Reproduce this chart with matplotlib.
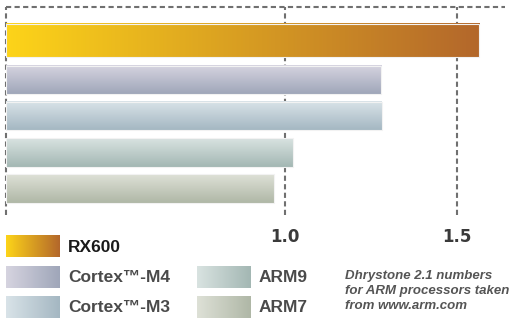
import numpy as np
import matplotlib
matplotlib.use("Agg")
import matplotlib.pyplot as plt
from matplotlib.colors import to_rgb

# data
processors = ["RX600", "Cortex\u2122-M4", "Cortex\u2122-M3", "ARM9", "ARM7"]
dmips = [1.565, 1.28, 1.282, 1.023, 0.968]
tick_vals = [1.0, 1.5]
tick_labels = ["1.0", "1.5"]
note = "Dhrystone 2.1 numbers\nfor ARM processors taken\nfrom www.arm.com"

# colours (start, end) of each gradient
col_start = ["#FDD419", "#D6D4E0", "#D9E3E8", "#D9E3E1", "#DEE1D7"]
col_end = ["#B3672B", "#9FA6B9", "#A4B7C2", "#A3B7B3", "#AFB7A6"]

ypos = [0, 1.1, 2.1, 3.1, 4.1]
heights = [0.92, 0.79, 0.79, 0.79, 0.79]
x0 = 0.19
xmax = 1.64
ytop, ybot = -0.93, 4.84


def gradient(c1, c2, horizontal=True, n=256):
    t = np.linspace(0, 1, n)[:, None]
    img = (1 - t) * np.array(to_rgb(c1)) + t * np.array(to_rgb(c2))
    if horizontal:
        return img[None, :, :]
    return img[:, None, :]


fig = plt.figure(figsize=(5.2, 3.2), dpi=100)
ax = fig.add_axes([6 / 520, 1 - 215 / 320, 499 / 520, 208 / 320])

bars = ax.barh(ypos, [v - x0 for v in dmips], left=x0, height=heights,
               color="none", edgecolor="#f2f2f2", linewidth=0.8, zorder=3)
for i, b in enumerate(bars):
    x, y, w, h = b.get_x(), b.get_y(), b.get_width(), b.get_height()
    img = gradient(col_start[i], col_end[i], horizontal=(i == 0))
    ax.imshow(img, extent=[x, x + w, y + h, y], aspect="auto", zorder=2,
              interpolation="bilinear")

# dashed grid
for xv in [x0] + tick_vals:
    ax.axvline(xv, color="#707070", lw=1.5, dashes=(2.5, 1.6), zorder=1,
               clip_on=False)
ax.axhline(ytop, color="#707070", lw=1.5, dashes=(2.5, 1.6), zorder=1,
           clip_on=False)

ax.set_xlim(x0, xmax)
ax.set_ylim(ybot, ytop)
ax.set_xticks(tick_vals)
ax.set_xticklabels(tick_labels, fontsize=12, fontweight="bold",
                   color="#3a3a3a", family="DejaVu Sans")
ax.tick_params(axis="x", length=0, pad=9)
ax.set_yticks([])
for s in ax.spines.values():
    s.set_visible(False)

# legend drawn in pixel coordinates
lg = fig.add_axes([0, 0, 1, 1], zorder=5)
lg.set_xlim(0, 520)
lg.set_ylim(320, 0)
lg.axis("off")
sw_x = [6, 6, 6, 197, 197]
sw_y = [246, 277, 307, 277, 307]
for i, name in enumerate(processors):
    img = gradient(col_start[i], col_end[i], horizontal=True)
    lg.imshow(img, extent=[sw_x[i], sw_x[i] + 54, sw_y[i] + 11, sw_y[i] - 11],
              aspect="auto", interpolation="bilinear")
    lg.text(sw_x[i] + 62, sw_y[i] + 1, name, fontsize=12.5, fontweight="bold",
            family="Liberation Sans",
            color="#1a1a1a" if i == 0 else "#4a4a4a", va="center", ha="left")
lg.set_xlim(0, 520)
lg.set_ylim(320, 0)
lg.text(345, 291, note, fontsize=9.5, style="italic", fontweight="bold",
        family="Liberation Sans", color="#555555", va="center", ha="left",
        linespacing=1.35)

fig.savefig("out.png", dpi=100)
